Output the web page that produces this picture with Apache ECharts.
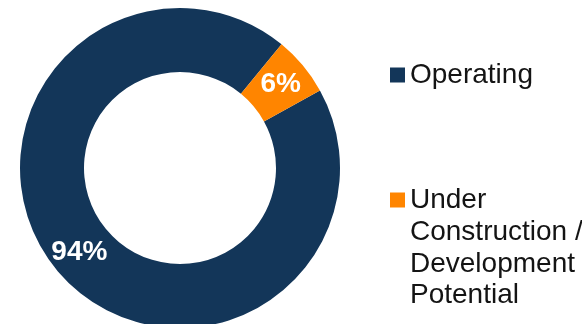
<!DOCTYPE html>
<html>
<head>
<meta charset="utf-8">
<script src="https://cdn.jsdelivr.net/npm/echarts@6/dist/echarts.min.js"></script>
<style>
  html, body { margin: 0; padding: 0; overflow: hidden; background: #fff; }
  #chart { width: 582px; height: 324px; }
</style>
</head>
<body>
<div id="chart"></div>
<script>
var categories = ['Operating', 'Under Construction / Development Potential'];
var shares = [94, 6];
var colors = ['#133659', '#FF8500'];
// the long legend name is wrapped: first line beside the marker, rest below
var legendLines = ['Under', 'Construction /', 'Development', 'Potential'];

var myChart = echarts.init(document.getElementById('chart'));

var pieData = categories.map(function (name, i) {
    return {name: name, value: shares[i], itemStyle: {color: colors[i]}};
});

var font = '"Liberation Sans", Arial, sans-serif';
var legendText = {fontFamily: font, fontSize: 28, color: '#141414'};

var option = {
    animation: false,
    legend: [
        {
            data: [categories[0]], left: 390, top: 61, padding: 0, itemGap: 0,
            icon: 'rect', itemWidth: 15, itemHeight: 15, textStyle: legendText
        },
        {
            data: [categories[1]], left: 390, top: 186, padding: 0, itemGap: 0,
            icon: 'rect', itemWidth: 15, itemHeight: 15, textStyle: legendText,
            formatter: function () { return legendLines[0]; }
        }
    ],
    graphic: [
        {
            type: 'text', left: 410, top: 217,
            style: {
                text: legendLines.slice(1).join('\n'), font: '28px ' + font,
                lineHeight: 31.3, fill: '#141414'
            }
        }
    ],
    series: [
        {
            type: 'pie', center: [180, 168], radius: [96, 160], startAngle: 29, clockwise: true,
            data: pieData,
            label: {
                position: 'inside', formatter: '{c}%', color: '#fff',
                fontFamily: font, fontSize: 28, fontWeight: 'bold'
            },
            labelLine: {show: false},
            emphasis: {disabled: true}
        }
    ]
};
myChart.setOption(option);
</script>
</body>
</html>
